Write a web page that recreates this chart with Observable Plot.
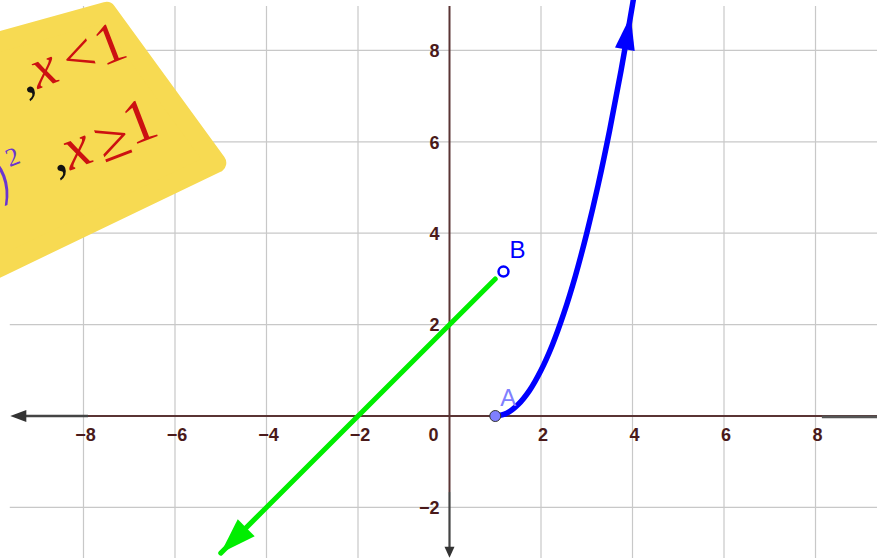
<!DOCTYPE html>
<html>
<head>
<meta charset="utf-8">
<script src="https://cdn.jsdelivr.net/npm/d3@7"></script>
<script src="https://cdn.jsdelivr.net/npm/@observablehq/plot@0.6"></script>
<style>
  body { margin: 0; background: #fff; }
  #chart svg { display: block; }
</style>
</head>
<body>
<div id="chart"></div>
<script>
// ---- tick values and labels ----
const xTicks = [-8, -6, -4, -2, 2, 4, 6, 8];
const xTickLabels = ["−8", "−6", "−4", "−2", "2", "4", "6", "8"];
const yTicks = [-2, 2, 4, 6, 8];
const yTickLabels = ["−2", "2", "4", "6", "8"];

// ---- right branch (x ≥ 1): points along the parabola starting at A ----
const curveX = [1, 1.25, 1.5, 1.75, 2, 2.25, 2.5, 2.75, 3, 3.25, 3.5, 3.75, 4, 4.03];
const curveY = [0, 0.06, 0.25, 0.56, 1, 1.56, 2.25, 3.06, 4, 5.06, 6.25, 7.56, 9, 9.18];
const curveArrowTip = {x: 3.96, y: 8.76};

// ---- left branch (x < 1): straight line ending near B ----
const lineX = [-5, 1];
const lineY = [-3, 3];

// ---- labelled points ----
const pointA = {name: "A", x: 1, y: 0};
const pointB = {name: "B", x: 1.18, y: 3.16};

// ---- frame ----
const W = 877, H = 558;
const xDomain = [-9.814, 9.355];
const yDomain = [-3.118, 9.092];
const kx = W / (xDomain[1] - xDomain[0]);   // px per unit
const ky = H / (yDomain[1] - yDomain[0]);
const gridTop = 8.96, gridLeft = -9.6;

// filled triangular arrow head whose tip sits at `tip`, pointing along dir (data units)
function arrowHead(tip, dir, len, half) {
  let px = dir[0] * kx, py = -dir[1] * ky;
  const n = Math.hypot(px, py); px /= n; py /= n;
  const bx = -px * len, by = -py * len;          // base centre offset (px)
  const qx = -py * half, qy = px * half;         // perpendicular (px)
  const toData = (ox, oy) => ({x: tip.x + ox / kx, y: tip.y - oy / ky});
  return [toData(0, 0), toData(bx + qx, by + qy), toData(bx - qx, by - qy), toData(0, 0)];
}

const curve = curveX.map((x, i) => ({x, y: curveY[i]}));
const line = lineX.map((x, i) => ({x, y: lineY[i]}));

const blueHead = arrowHead(curveArrowTip, [curveX[12] - curveX[11], curveY[12] - curveY[11]], 34, 10);
const greenHead = arrowHead({x: lineX[0], y: lineY[0]}, [lineX[0] - lineX[1], lineY[0] - lineY[1]], 36, 12);
const xAxisHead = arrowHead({x: gridLeft, y: 0}, [-1, 0], 16, 6);
const yAxisHead = arrowHead({x: 0, y: -3.1}, [0, -1], 11, 5);

// sticky note holding the piecewise definition (drawn in data units)
const note = [
  {x: -10.47, y: 8.05}, {x: -9.814, y: 8.2}, {x: -7.50, y: 8.843},
  {x: -5.097, y: 5.540}, {x: -9.814, y: 3.274}, {x: -10.47, y: 2.965}, {x: -10.47, y: 8.05}
];
const noteLine1 = {x: -9.272, y: 7.449};
const noteLine2 = {x: -8.612, y: 5.751};
const serif = "Liberation Serif, serif";

function glyph(at, text, dx, dy, opts) {
  return Plot.text([at], {x: "x", y: "y", text: () => text, dx, dy, rotate: -21,
    fontFamily: serif, textAnchor: "middle", lineAnchor: "middle", ...opts});
}

const axisColor = "#5a3434";
const labelColor = "#4a1a1a";
const labelFont = "Liberation Sans, Arial, sans-serif";

const chart = Plot.plot({
  width: W,
  height: H,
  margin: 0,
  x: {domain: xDomain, axis: null},
  y: {domain: yDomain, axis: null},
  style: {background: "#fff", overflow: "visible"},
  marks: [
    // grid
    Plot.ruleX(xTicks, {x: d => d, y1: yDomain[0], y2: gridTop, stroke: "#c8c8c8", strokeWidth: 1.2}),
    Plot.ruleY(yTicks, {y: d => d, x1: gridLeft, x2: xDomain[1], stroke: "#c8c8c8", strokeWidth: 1.2}),

    // sticky note
    Plot.line(note, {x: "x", y: "y", fill: "#f7da52", stroke: "#f7da52", strokeWidth: 20, strokeLinejoin: "round"}),
    glyph(noteLine1, ",", 0, 0, {fill: "#111", fontSize: 54}),
    glyph(noteLine1, "x", 18, -7.4, {fill: "#cc1111", fontSize: 56, fontStyle: "italic"}),
    glyph(noteLine1, "<", 53.5, -19.6, {fill: "#cc1111", fontSize: 56}),
    glyph(noteLine1, "1", 84.5, -31.5, {fill: "#cc1111", fontSize: 58}),
    glyph(noteLine2, ",", 0, 0, {fill: "#111", fontSize: 58}),
    glyph(noteLine2, "x", 20.5, -5.4, {fill: "#cc1111", fontSize: 60, fontStyle: "italic"}),
    glyph(noteLine2, "≥", 57, -13.7, {fill: "#cc1111", fontSize: 60}),
    glyph(noteLine2, "1", 84, -31.5, {fill: "#cc1111", fontSize: 62}),
    glyph(noteLine2, ")", -56, 24, {fill: "#6a35d0", fontSize: 64, fontWeight: 200, fontFamily: "DejaVu Sans, sans-serif"}),
    glyph(noteLine2, "2", -43, 4, {fill: "#6a35d0", fontSize: 26}),

    // axes
    Plot.ruleY([0], {x1: gridLeft + 0.2, x2: xDomain[1], stroke: axisColor, strokeWidth: 2}),
    Plot.ruleX([0], {y1: -1.674, y2: gridTop, stroke: axisColor, strokeWidth: 2}),
    Plot.ruleY([0], {x1: gridLeft + 0.2, x2: -7.89, stroke: "#444", strokeWidth: 2.4}),
    Plot.ruleY([0], {x1: 8.15, x2: xDomain[1], y: -0.02, stroke: "#555", strokeWidth: 2.6}),
    Plot.ruleX([0], {y1: -2.95, y2: -1.674, stroke: "#444", strokeWidth: 2.2}),
    Plot.line(xAxisHead, {x: "x", y: "y", fill: "#333", stroke: "none"}),
    Plot.line(yAxisHead, {x: "x", y: "y", fill: "#333", stroke: "none"}),

    // tick labels
    Plot.text(xTicks, {x: d => d, y: 0, text: (d, i) => xTickLabels[i], dx: 2, dy: 19,
      fill: labelColor, fontSize: 18, fontWeight: "bold", fontFamily: labelFont}),
    Plot.text(yTicks, {x: 0, y: d => d, text: (d, i) => yTickLabels[i], dx: -10, dy: 1, textAnchor: "end",
      fill: labelColor, fontSize: 18, fontWeight: "bold", fontFamily: labelFont}),
    Plot.text([0], {x: 0, y: 0, text: () => "0", dx: -16, dy: 19,
      fill: labelColor, fontSize: 18, fontWeight: "bold", fontFamily: labelFont}),

    // left branch
    Plot.line(line, {x: "x", y: "y", stroke: "#00ee00", strokeWidth: 5}),
    Plot.line(greenHead, {x: "x", y: "y", fill: "#00ee00", stroke: "none"}),

    // right branch
    Plot.line(curve, {x: "x", y: "y", stroke: "#0000ff", strokeWidth: 5.5, curve: "catmull-rom"}),
    Plot.line(blueHead, {x: "x", y: "y", fill: "#0000ff", stroke: "none"}),

    // points and labels
    Plot.dot([pointB], {x: "x", y: "y", r: 5, fill: "#fff", stroke: "#0000ff", strokeWidth: 2.5}),
    Plot.text([pointB], {x: "x", y: "y", text: "name", dx: 14, dy: -21, fill: "#0000ff", fontSize: 24, fontFamily: labelFont}),
    Plot.dot([pointA], {x: "x", y: "y", r: 5.5, fill: "#7f7fff", stroke: "#333", strokeWidth: 1}),
    Plot.text([pointA], {x: "x", y: "y", text: "name", dx: 13, dy: -18, fill: "#8080ff", fontSize: 24, fontFamily: labelFont})
  ]
});

document.getElementById("chart").append(chart);
</script>
</body>
</html>
